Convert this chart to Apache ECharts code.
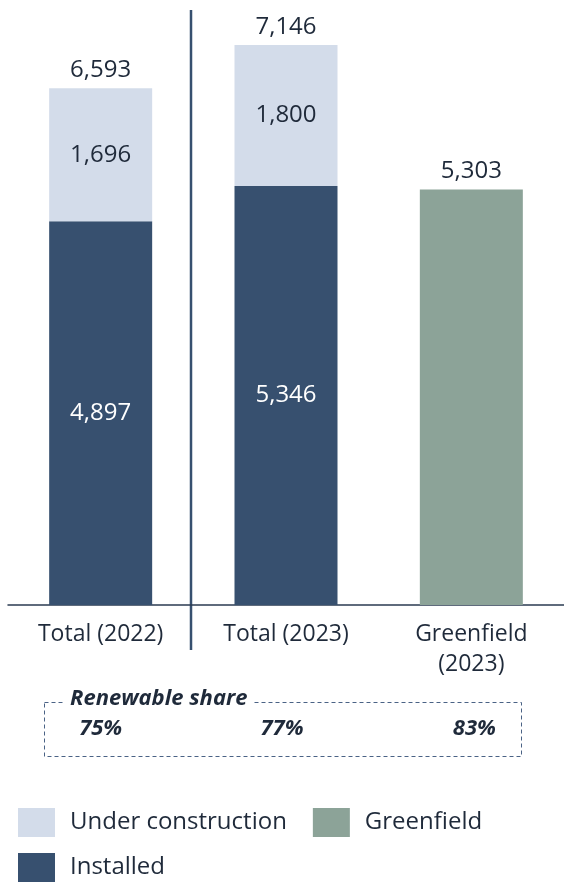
<!DOCTYPE html>
<html>
<head>
<meta charset="utf-8">
<script src="https://cdn.jsdelivr.net/npm/echarts@6/dist/echarts.min.js"></script>
<style>
  html, body { margin: 0; padding: 0; background: #fff; }
  #chart { width: 564px; height: 883px; }
</style>
</head>
<body>
<div id="chart"></div>
<script>
var categories = ['Total (2022)', 'Total (2023)', 'Greenfield\n(2023)'];
var installed = [4897, 5346, '-'];
var underConstruction = [1696, 1800, '-'];
var greenfield = ['-', '-', 5303];
var totals = [6593, 7146];
var shares = ['75%', '77%', '83%'];

var FONT = 'Open Sans';
var TEXT = '#1f2a3a';

function fmt(v) {
  return Number(v).toLocaleString('en-US');
}

var chart = echarts.init(document.getElementById('chart'));

var legendText = { fontSize: 24, color: TEXT, fontFamily: FONT, padding: [0, 0, 0, 10] };

var option = {
  animation: false,
  backgroundColor: '#fff',
  textStyle: { fontFamily: FONT },
  grid: { left: 8, right: 0, top: 45, bottom: 278 },
  legend: [
    {
      data: ['Under construction', 'Greenfield'],
      left: 18, top: 808, padding: 0,
      itemWidth: 37, itemHeight: 29, itemGap: 26,
      icon: 'rect',
      textStyle: legendText
    },
    {
      data: ['Installed'],
      left: 18, top: 853, padding: 0,
      itemWidth: 37, itemHeight: 29,
      icon: 'rect',
      textStyle: legendText
    }
  ],
  xAxis: {
    type: 'category',
    data: categories,
    axisLine: { lineStyle: { color: '#2b3b52', width: 1.5 } },
    axisTick: { show: false },
    axisLabel: { fontSize: 23, color: TEXT, margin: 14, lineHeight: 30, fontFamily: FONT }
  },
  yAxis: {
    type: 'value',
    min: 0,
    max: 7146,
    show: false,
    splitLine: { show: false }
  },
  series: [
    {
      name: 'Installed',
      type: 'bar',
      stack: 'a',
      barWidth: 103,
      data: installed,
      itemStyle: { color: '#37506f' },
      label: { show: true, position: 'inside', color: '#fff', fontSize: 24, fontFamily: FONT, formatter: function (p) { return fmt(p.value); } }
    },
    {
      name: 'Under construction',
      type: 'bar',
      stack: 'a',
      barWidth: 103,
      data: underConstruction,
      itemStyle: { color: '#d3dcea' },
      label: { show: true, position: 'inside', color: TEXT, fontSize: 24, fontFamily: FONT, formatter: function (p) { return fmt(p.value); } }
    },
    {
      name: 'Greenfield',
      type: 'bar',
      stack: 'a',
      barWidth: 103,
      data: greenfield,
      itemStyle: { color: '#8ca398' },
      label: { show: true, position: 'top', distance: 6, color: TEXT, fontSize: 24, fontFamily: FONT, formatter: function (p) { return fmt(p.value); } }
    },
    {
      name: 'Total',
      type: 'bar',
      stack: 'a',
      barWidth: 103,
      data: totals.map(function () { return 0; }).concat(['-']),
      itemStyle: { color: 'transparent' },
      label: { show: true, position: 'top', distance: 6, color: TEXT, fontSize: 24, fontFamily: FONT,
        formatter: function (p) { return fmt(totals[p.dataIndex]); } }
    }
  ]
};

chart.setOption(option);

// annotation layer: separator line and renewable share box
var xs = categories.map(function (c) { return chart.convertToPixel({ xAxisIndex: 0 }, c); });
var graphics = [
  {
    type: 'line',
    shape: { x1: 191, y1: 10, x2: 191, y2: 650 },
    style: { stroke: '#37506f', lineWidth: 2.5 }
  },
  {
    type: 'rect',
    shape: { x: 44.5, y: 702.5, width: 477, height: 54 },
    style: { fill: 'none', stroke: '#4a6285', lineWidth: 1, lineDash: [4, 3] }
  },
  {
    type: 'text',
    x: 64, y: 699,
    style: { text: 'Renewable share', font: 'italic bold 22px ' + FONT, fill: TEXT,
      verticalAlign: 'middle', backgroundColor: '#fff', padding: [0, 6, 0, 6] }
  }
];
var shareOffsets = [0, -4, 3];
shares.forEach(function (s, i) {
  graphics.push({
    type: 'text',
    x: xs[i] + shareOffsets[i], y: 729,
    style: { text: s, font: 'italic bold 22px ' + FONT, fill: TEXT, align: 'center', verticalAlign: 'middle' }
  });
});
chart.setOption({ graphic: graphics });
</script>
</body>
</html>
